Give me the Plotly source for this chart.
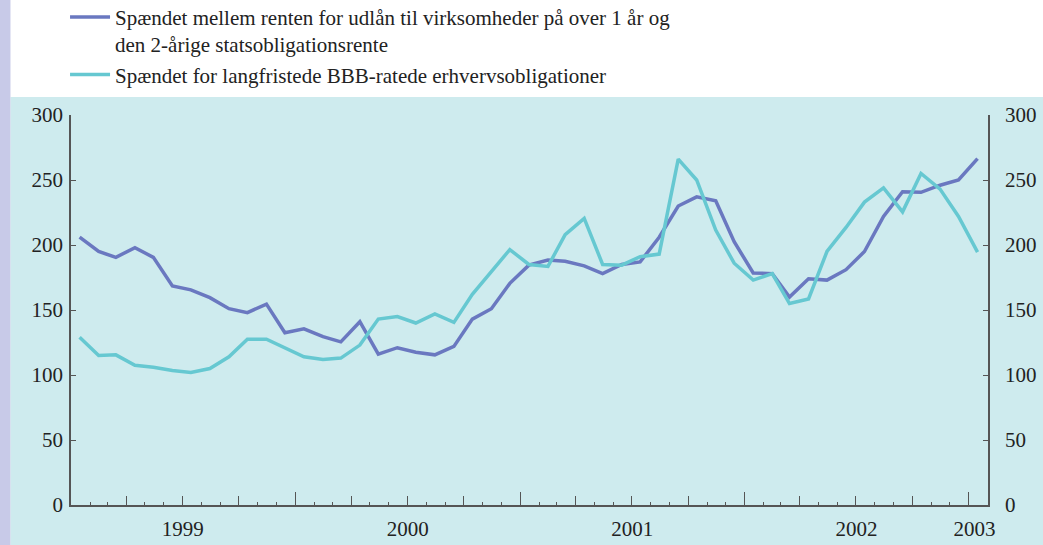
import plotly.graph_objects as go
import pandas as pd

# monthly observations, Jan 1999 - Jan 2003 (basis points)
months = pd.date_range("1999-01-01", periods=49, freq="MS") + pd.Timedelta(days=14)

laan_spread = [206, 195, 190.5, 198, 190.5, 168.5, 165.5, 159.5, 151, 148, 154.5, 132.5,
               135.5, 129.5, 125.5, 141, 116, 121, 117.5, 115.5, 122, 143, 151, 170.5,
               184.5, 188.5, 187.5, 184, 178, 185, 187, 206, 230, 237, 234, 202.5,
               178.5, 178, 160, 174, 173, 181, 195, 222, 241, 240.5, 246, 250, 266.5]

bbb_spread = [129, 115, 115.5, 107.5, 106, 103.5, 102, 105, 114, 127.5, 127.5, 120.5,
              114, 112, 113, 123, 143, 145, 140, 147, 140.5, 162, 179.5, 196.5,
              185, 183.5, 208, 220.5, 185, 184.5, 191, 193, 266, 250, 211.5, 186,
              173, 178, 155, 158.5, 195, 213.5, 233, 244, 225.5, 255, 243, 222, 194.5]

names = ["Spændet mellem renten for udlån til virksomheder på over 1 år og<br>den 2-årige statsobligationsrente",
         "Spændet for langfristede BBB-ratede erhvervsobligationer"]
colors = ["#6a78c0", "#66c8d1"]

year_labels = ["1999", "2000", "2001", "2002", "2003"]
year_label_pos = ["1999-07-02", "2000-07-02", "2001-07-02", "2002-07-02", "2003-01-10"]
year_starts = ["2000-01-01", "2001-01-01", "2002-01-01", "2003-01-01"]
quarter_starts = pd.date_range("1999-01-01", "2003-01-01", freq="QS")

x_range = ["1999-01-01", "2003-02-01"]
font = dict(family="Liberation Serif", size=21, color="#222")
axis_col = "#555"

fig = go.Figure()
for vals, name, col in zip([laan_spread, bbb_spread], names, colors):
    fig.add_trace(go.Scatter(x=months, y=vals, name=name, mode="lines",
                             line=dict(color=col, width=3.5)))

# helper traces so the extra axes get drawn
empty = [None] * len(months)
fig.add_trace(go.Scatter(x=months, y=empty, xaxis="x2", showlegend=False, hoverinfo="skip"))
fig.add_trace(go.Scatter(x=months, y=empty, xaxis="x3", showlegend=False, hoverinfo="skip"))
fig.add_trace(go.Scatter(x=months, y=empty, yaxis="y2", showlegend=False, hoverinfo="skip"))

yax = dict(range=[0, 300], dtick=50, ticks="inside", ticklen=5, tickcolor=axis_col,
           showline=True, linecolor=axis_col, linewidth=1.5, showgrid=False, zeroline=False,
           tickfont=font)

fig.update_layout(
    width=1043, height=545,
    margin=dict(l=71, r=55, t=115, b=40, autoexpand=False),
    paper_bgcolor="white",
    plot_bgcolor="rgba(0,0,0,0)",
    font=font,
    xaxis=dict(type="date", range=x_range, showline=True, linecolor=axis_col, linewidth=1.5,
               ticks="inside", tickvals=quarter_starts, ticklen=9, tickcolor=axis_col,
               showticklabels=False, showgrid=False, zeroline=False,
               minor=dict(ticks="inside", ticklen=3.5, dtick="M1", tick0="1999-01-01",
                          tickcolor=axis_col, showgrid=False)),
    xaxis2=dict(type="date", range=x_range, overlaying="x", ticks="inside", tickvals=year_starts,
                ticklen=13, tickcolor=axis_col, showticklabels=False, showline=False,
                showgrid=False, zeroline=False),
    xaxis3=dict(type="date", range=x_range, overlaying="x", ticks="", tickvals=year_label_pos,
                ticktext=year_labels, tickfont=font, showline=False, showgrid=False,
                zeroline=False, ticklabelstandoff=9),
    yaxis=dict(yax, ticklabelstandoff=2),
    yaxis2=dict(yax, overlaying="y", side="right", ticklabelstandoff=11),
    legend=dict(x=-0.0065, y=1.303, xanchor="left", yanchor="top", valign="top", itemwidth=40,
                font=font, bgcolor="rgba(0,0,0,0)", tracegroupgap=0),
    shapes=[
        dict(type="rect", xref="paper", yref="paper", x0=-0.066, x1=1.07, y0=-0.11, y1=1.046,
             fillcolor="#ceebee", line=dict(width=0), layer="below"),
        dict(type="rect", xref="paper", yref="paper", x0=-0.08, x1=-0.066, y0=-0.11, y1=1.31,
             fillcolor="#c8cae8", line=dict(width=0), layer="below"),
    ],
)

# page has a default 8px body margin; drop it so the figure sits at the window corner
fig.write_html("out.html", config={"displayModeBar": False},
               post_script="document.body.style.margin='0';")
